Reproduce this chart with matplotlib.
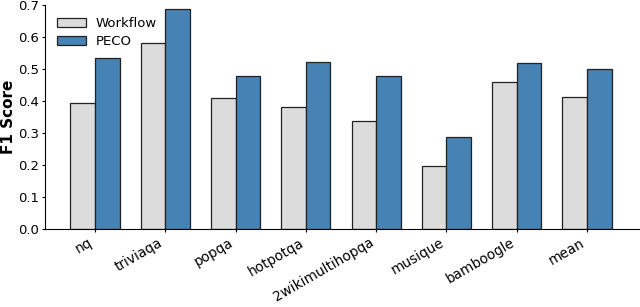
import numpy as np
import matplotlib.pyplot as plt

datasets = ['nq', 'triviaqa', 'popqa', 'hotpotqa', '2wikimultihopqa', 'musique', 'bamboogle', 'mean']
workflow = [0.394, 0.581, 0.410, 0.381, 0.339, 0.199, 0.461, 0.414]
peco = [0.534, 0.689, 0.479, 0.524, 0.479, 0.289, 0.521, 0.500]

x = np.arange(len(datasets))
width = 0.35

fig = plt.figure(figsize=(6.4, 3.07), dpi=100)
ax = fig.add_axes([0.0705, 0.253, 0.928, 0.73])

ax.bar(x - width / 2, workflow, width, label='Workflow', color='#dcdcdc', edgecolor='#222222', linewidth=0.9)
ax.bar(x + width / 2, peco, width, label='PECO', color='#4682b4', edgecolor='#222222', linewidth=0.9)

ax.set_xticks(x)
ax.set_xticklabels(datasets, rotation=30, ha='right', fontsize=9.8)
ax.set_xlim(-0.71, 7.74)
ax.set_ylim(0, 0.7)
ax.set_yticks(np.arange(0, 0.71, 0.1))
ax.tick_params(axis='y', labelsize=9.5)
ax.tick_params(length=2.5, pad=2)
ax.set_ylabel('F1 Score', fontsize=11, fontweight='bold', labelpad=1)
ax.spines['top'].set_visible(False)
ax.spines['right'].set_visible(False)
ax.legend(loc='upper left', frameon=False, fontsize=9.5, handlelength=2.2, handletextpad=0.7,
          labelspacing=0.4, bbox_to_anchor=(0.0, 1.0))

fig.savefig('out.png', dpi=100)
